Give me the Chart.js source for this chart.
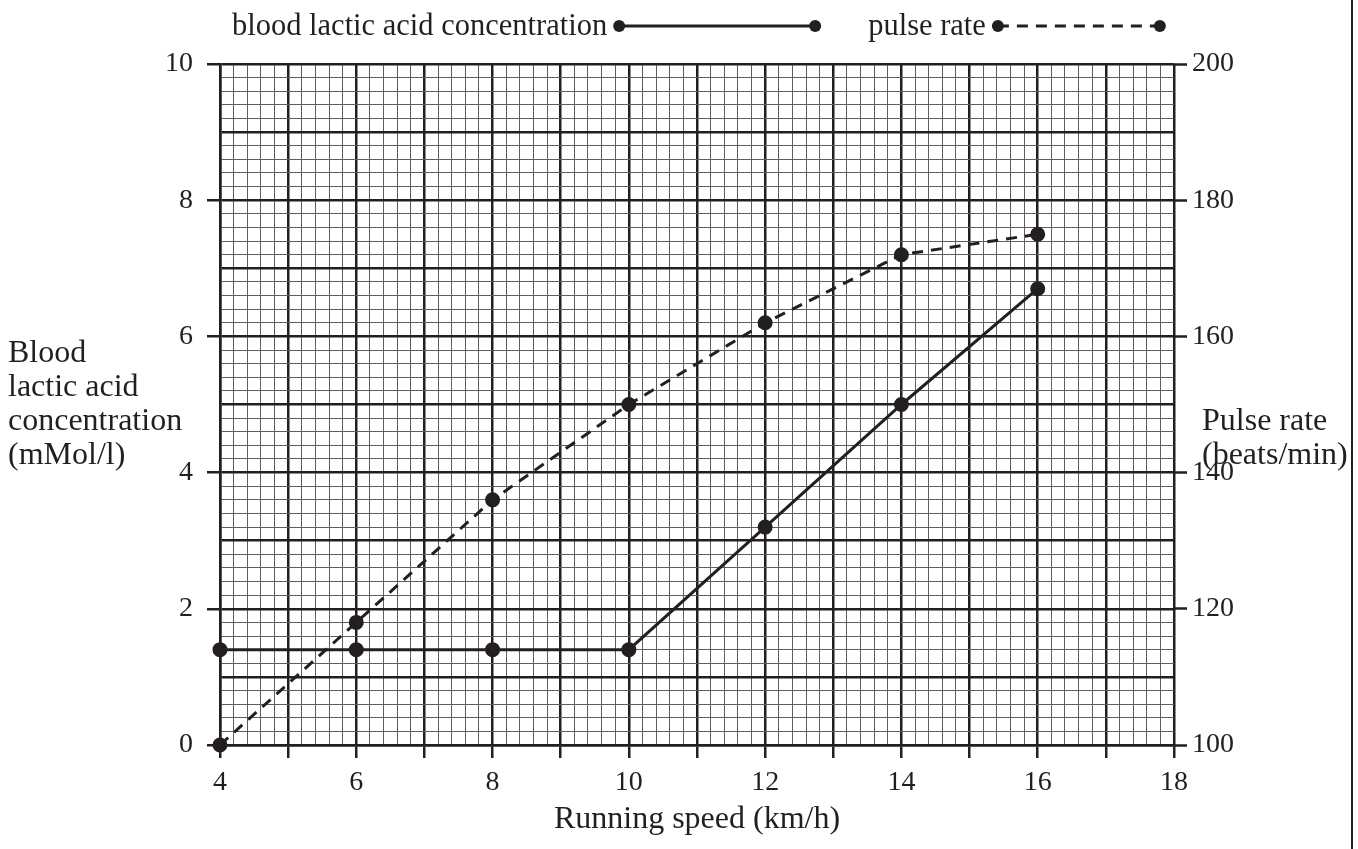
<!DOCTYPE html>
<html>
<head>
<meta charset="utf-8">
<script src="https://cdn.jsdelivr.net/npm/chart.js@4.4.1/dist/chart.umd.min.js"></script>
<style>
  html, body { margin: 0; padding: 0; background: #fff; }
  #wrap { position: relative; width: 1358px; height: 849px; }
</style>
</head>
<body>
<div id="wrap"><canvas id="c" width="1358" height="849"></canvas></div>
<script>
// ---- data ----
const speeds = [4, 6, 8, 10, 12, 14, 16];
const lacticAcid = [1.4, 1.4, 1.4, 1.4, 3.2, 5.0, 6.7];
const pulseRate = [100, 118, 136, 150, 162, 172, 175];
const seriesLabels = ['blood lactic acid concentration', 'pulse rate'];
const xTitle = 'Running speed (km/h)';
const yLeftTitle = ['Blood', 'lactic acid', 'concentration', '(mMol/l)'];
const yRightTitle = ['Pulse rate', '(beats/min)'];

const FONT = '"Liberation Serif", "DejaVu Serif", serif';
const INK = '#231f20';
const isInt = v => Math.abs(v - Math.round(v)) < 1e-6;
const isEvenInt = v => isInt(v) && Math.round(v) % 2 === 0;

const gridColor = c => (c.tick && isInt(c.tick.value)) ? '#231f20' : '#5e5e5e';
const gridWidth = c => (c.tick && isInt(c.tick.value)) ? 2.5 : 1;

const decorPlugin = {
  id: 'decor',
  afterDraw(chart) {
    const ctx = chart.ctx;
    const a = chart.chartArea;
    ctx.save();
    ctx.fillStyle = INK;
    ctx.font = '32px ' + FONT;
    ctx.textBaseline = 'alphabetic';
    // axis titles
    ctx.textAlign = 'left';
    const lh = 34;
    yLeftTitle.forEach((t, i) => ctx.fillText(t, 8, 362 + i * lh));
    yRightTitle.forEach((t, i) => ctx.fillText(t, a.right + 28, 430 + i * lh));
    ctx.textAlign = 'center';
    ctx.fillText(xTitle, (a.left + a.right) / 2, 828);
    // legend
    ctx.font = '30.5px ' + FONT;
    ctx.textAlign = 'left';
    let x = a.left + 12;
    const ly = 26;
    chart.data.datasets.forEach((ds, i) => {
      ctx.fillStyle = INK;
      ctx.fillText(ds.label, x, ly + 9);
      x += ctx.measureText(ds.label).width + 12;
      const len = i === 0 ? 196 : 162;
      ctx.strokeStyle = ds.borderColor;
      ctx.lineWidth = ds.borderWidth;
      ctx.setLineDash(ds.borderDash || []);
      ctx.beginPath();
      ctx.moveTo(x, ly);
      ctx.lineTo(x + len, ly);
      ctx.stroke();
      ctx.setLineDash([]);
      ctx.fillStyle = ds.pointBackgroundColor;
      [x, x + len].forEach(px => {
        ctx.beginPath();
        ctx.arc(px, ly, ds.pointRadius, 0, Math.PI * 2);
        ctx.fill();
      });
      x += len + 53;
    });
    // right frame line
    ctx.strokeStyle = INK;
    ctx.lineWidth = 2;
    ctx.beginPath();
    ctx.moveTo(chart.width - 6, 0);
    ctx.lineTo(chart.width - 6, chart.height);
    ctx.stroke();
    ctx.restore();
  }
};

new Chart(document.getElementById('c'), {
  type: 'scatter',
  data: {
    datasets: [
      {
        label: seriesLabels[0],
        data: speeds.map((s, i) => ({ x: s, y: lacticAcid[i] })),
        showLine: true,
        clip: false,
        borderColor: INK,
        backgroundColor: INK,
        pointBackgroundColor: INK,
        pointBorderColor: INK,
        borderWidth: 3,
        pointRadius: 6,
        yAxisID: 'y'
      },
      {
        label: seriesLabels[1],
        data: speeds.map((s, i) => ({ x: s, y: pulseRate[i] })),
        showLine: true,
        clip: false,
        borderColor: INK,
        backgroundColor: INK,
        pointBackgroundColor: INK,
        pointBorderColor: INK,
        borderWidth: 3,
        borderDash: [11, 8],
        pointRadius: 6,
        yAxisID: 'y2'
      }
    ]
  },
  options: {
    responsive: false,
    animation: false,
    layout: { padding: { top: 64, left: 0, right: 0, bottom: 0 } },
    plugins: { legend: { display: false }, tooltip: { enabled: false } },
    scales: {
      x: {
        type: 'linear',
        min: 4, max: 18,
        afterFit: s => { s.height = 104; },
        border: { display: true, color: INK, width: 2.5 },
        grid: {
          color: gridColor, lineWidth: gridWidth,
          drawTicks: true, tickLength: 13, tickWidth: 2.5,
          tickColor: c => (c.tick && isInt(c.tick.value)) ? INK : 'rgba(0,0,0,0)'
        },
        ticks: {
          stepSize: 0.2, autoSkip: false, maxRotation: 0, padding: 8,
          color: INK, font: { family: FONT, size: 28 },
          callback: v => isEvenInt(v) ? String(Math.round(v)) : ''
        }
      },
      y: {
        position: 'left',
        min: 0, max: 10,
        afterFit: s => { s.width = 220; },
        border: { display: true, color: INK, width: 2.5 },
        grid: {
          color: gridColor, lineWidth: gridWidth,
          drawTicks: true, tickLength: 13, tickWidth: 2.5,
          tickColor: c => (c.tick && isEvenInt(c.tick.value)) ? INK : 'rgba(0,0,0,0)'
        },
        ticks: {
          stepSize: 0.2, autoSkip: false, padding: 14,
          color: INK, font: { family: FONT, size: 28 },
          callback: v => isEvenInt(v) ? String(Math.round(v)) : ''
        }
      },
      y2: {
        position: 'right',
        min: 100, max: 200,
        afterFit: s => { s.width = 184; },
        border: { display: false },
        grid: {
          drawOnChartArea: false,
          drawTicks: true, tickLength: 13, tickWidth: 2.5, tickColor: INK
        },
        ticks: {
          stepSize: 20, autoSkip: false, padding: 5,
          color: INK, font: { family: FONT, size: 28 }
        }
      }
    }
  },
  plugins: [decorPlugin]
});
</script>
</body>
</html>
